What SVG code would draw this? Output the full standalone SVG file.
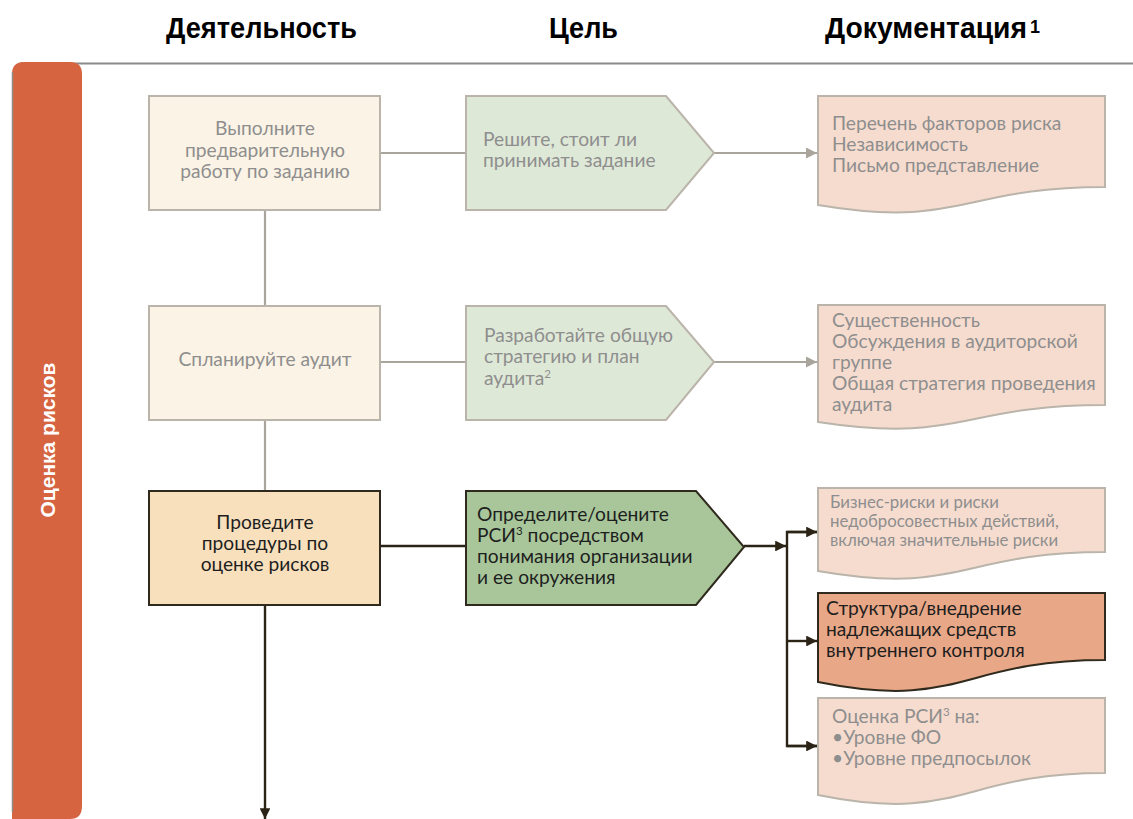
<svg xmlns="http://www.w3.org/2000/svg" width="1133" height="819" viewBox="0 0 1133 819">
<defs>
<marker id="ag" viewBox="0 0 10 10" refX="10" refY="5" markerWidth="5" markerHeight="5" orient="auto" markerUnits="strokeWidth"><path d="M0,0 L10,5 L0,10 Z" fill="#A9A59D"/></marker>
<marker id="ad" viewBox="0 0 10 10" refX="10" refY="5" markerWidth="4.5" markerHeight="4.5" orient="auto" markerUnits="strokeWidth"><path d="M0,0 L10,5 L0,10 Z" fill="#2B2416"/></marker>
</defs>
<style>
.hd{font-family:"Liberation Sans Narrow","Liberation Sans",Arial,sans-serif;font-weight:bold;font-size:29px;fill:#000}
.sup{font-family:"Liberation Sans",Arial,sans-serif;font-weight:bold;font-size:19px;fill:#000}
.t{font-family:Lato,"Open Sans",sans-serif;font-size:19.2px;fill:#8E8E8E}
.tk{font-family:Lato,"Open Sans",sans-serif;font-size:19.2px;fill:#1E1E1E}
.ts{font-family:Lato,"Open Sans",sans-serif;font-size:16.8px;fill:#8E8E8E}
.mid{text-anchor:middle}
.lbox{fill:#FBF3E5;stroke:#BAB4AA;stroke-width:2}
.lpent{fill:#DEE8D7;stroke:#BAB4AA;stroke-width:2}
.ldoc{fill:#F6DCCE;stroke:#BAB4AA;stroke-width:2}
.dbox{fill:#F8E0BD;stroke:#2F2A1D;stroke-width:2}
.dpent{fill:#A8C69A;stroke:#2F2A1D;stroke-width:2}
.ddoc{fill:#E8A787;stroke:#2F2A1D;stroke-width:2}
.cg{fill:none;stroke:#A9A59D;stroke-width:2.2}
.cd{fill:none;stroke:#2B2416;stroke-width:2.4}
</style>

<g id="headers">
<text class="hd" x="166" y="38" textLength="191" lengthAdjust="spacingAndGlyphs">Деятельность</text>
<text class="hd" x="549" y="38" textLength="69" lengthAdjust="spacingAndGlyphs">Цель</text>
<text class="hd" x="825" y="38" textLength="202" lengthAdjust="spacingAndGlyphs">Документация</text>
<text class="sup" x="1030" y="33" textLength="10" lengthAdjust="spacingAndGlyphs">1</text>
</g>

<g id="frame">
<line x1="20" y1="63.5" x2="1133" y2="63.5" stroke="#8A8A8A" stroke-width="2"/>
<path d="M12,819 V74 Q12,62 24,62 H70 Q82,62 82,74 V806 Q82,819 70,819 Z" fill="#D66440"/>
<line x1="12.5" y1="72" x2="12.5" y2="812" stroke="#8F8A85" stroke-width="1.5"/>
<text transform="translate(55,440) rotate(-90)" text-anchor="middle" font-family="Liberation Sans,Arial,sans-serif" font-weight="bold" font-size="21" fill="#FFFFFF">Оценка рисков</text>
</g>

<g id="connectors">
<line class="cg" x1="380" y1="153" x2="466" y2="153"/>
<line class="cg" x1="714" y1="153" x2="817" y2="153" marker-end="url(#ag)"/>
<line class="cg" x1="265" y1="210" x2="265" y2="306"/>
<line class="cg" x1="380" y1="362" x2="466" y2="362"/>
<line class="cg" x1="714" y1="362" x2="817" y2="362" marker-end="url(#ag)"/>
<line class="cg" x1="265" y1="420" x2="265" y2="491"/>
<line class="cd" x1="380" y1="546" x2="466" y2="546"/>
<line class="cd" x1="744" y1="546" x2="786" y2="546" marker-end="url(#ad)"/>
<polyline class="cd" points="818,532 787,532 787,746 818,746"/>
<line class="cd" x1="787" y1="532" x2="817" y2="532" marker-end="url(#ad)"/>
<line class="cd" x1="787" y1="641" x2="817" y2="641" marker-end="url(#ad)"/>
<line class="cd" x1="787" y1="746" x2="817" y2="746" marker-end="url(#ad)"/>
<line class="cd" x1="265" y1="605" x2="265" y2="819" marker-end="url(#ad)"/>
</g>

<g id="n1">
<rect class="lbox" x="149" y="96" width="231" height="114"/>
<text class="t mid" x="265" y="135">Выполните</text>
<text class="t mid" x="265" y="157">предварительную</text>
<text class="t mid" x="265" y="178">работу по заданию</text>
</g>
<g id="n2">
<path class="lpent" d="M466,96 H666 L714,153 L666,210 H466 Z"/>
<text class="t" x="483" y="146">Решите, стоит ли</text>
<text class="t" x="483" y="167">принимать задание</text>
</g>
<g id="n3">
<path class="ldoc" d="M818,96 H1105 V187 C961,187 961,229 818,205 Z"/>
<text class="t" x="832" y="130">Перечень факторов риска</text>
<text class="t" x="832" y="151">Независимость</text>
<text class="t" x="832" y="172">Письмо представление</text>
</g>

<g id="n4">
<rect class="lbox" x="149" y="306" width="231" height="114"/>
<text class="t mid" x="265" y="366">Спланируйте аудит</text>
</g>
<g id="n5">
<path class="lpent" d="M466,306 H666 L714,362 L666,420 H466 Z"/>
<text class="t" x="484" y="342">Разработайте общую</text>
<text class="t" x="484" y="363">стратегию и план</text>
<text class="t" x="484" y="385">аудита<tspan font-size="11.5" dy="-7">2</tspan></text>
</g>
<g id="n6">
<path class="ldoc" d="M818,305 H1105 V405 C961,405 961,444 818,422 Z"/>
<text class="t" x="832" y="327">Существенность</text>
<text class="t" x="832" y="348">Обсуждения в аудиторской</text>
<text class="t" x="832" y="369">группе</text>
<text class="t" x="832" y="390">Общая стратегия проведения</text>
<text class="t" x="832" y="411">аудита</text>
</g>

<g id="n7">
<rect class="dbox" x="149" y="491" width="231" height="114"/>
<text class="tk mid" x="265" y="529">Проведите</text>
<text class="tk mid" x="265" y="550">процедуры по</text>
<text class="tk mid" x="265" y="571">оценке рисков</text>
</g>
<g id="n8">
<path class="dpent" d="M466,491 H696 L744,547 L696,605 H466 Z"/>
<text class="tk" x="477" y="521">Определите/оцените</text>
<text class="tk" x="477" y="542">РСИ<tspan font-size="11.5" dy="-7">3</tspan><tspan dy="7"> посредством</tspan></text>
<text class="tk" x="477" y="563">понимания организации</text>
<text class="tk" x="477" y="584">и ее окружения</text>
</g>
<g id="n9">
<path class="ldoc" d="M818,488 H1105 V552 C961,552 961,596 818,571 Z"/>
<text class="ts" x="830" y="508">Бизнес-риски и риски</text>
<text class="ts" x="830" y="527">недобросовестных действий,</text>
<text class="ts" x="830" y="546">включая значительные риски</text>
</g>
<g id="n10">
<path class="ddoc" d="M818,593 H1105 V660 C961,660 961,711 818,682 Z"/>
<text class="tk" x="826" y="615">Структура/внедрение</text>
<text class="tk" x="826" y="636">надлежащих средств</text>
<text class="tk" x="826" y="657">внутреннего контроля</text>
</g>
<g id="n11">
<path class="ldoc" d="M818,698 H1105 V773 C961,773 961,824 818,795 Z"/>
<text class="t" x="832" y="723">Оценка РСИ<tspan font-size="11.5" dy="-7">3</tspan><tspan dy="7"> на:</tspan></text>
<text class="t" x="832" y="744">•Уровне ФО</text>
<text class="t" x="832" y="765">•Уровне предпосылок</text>
</g>
</svg>
